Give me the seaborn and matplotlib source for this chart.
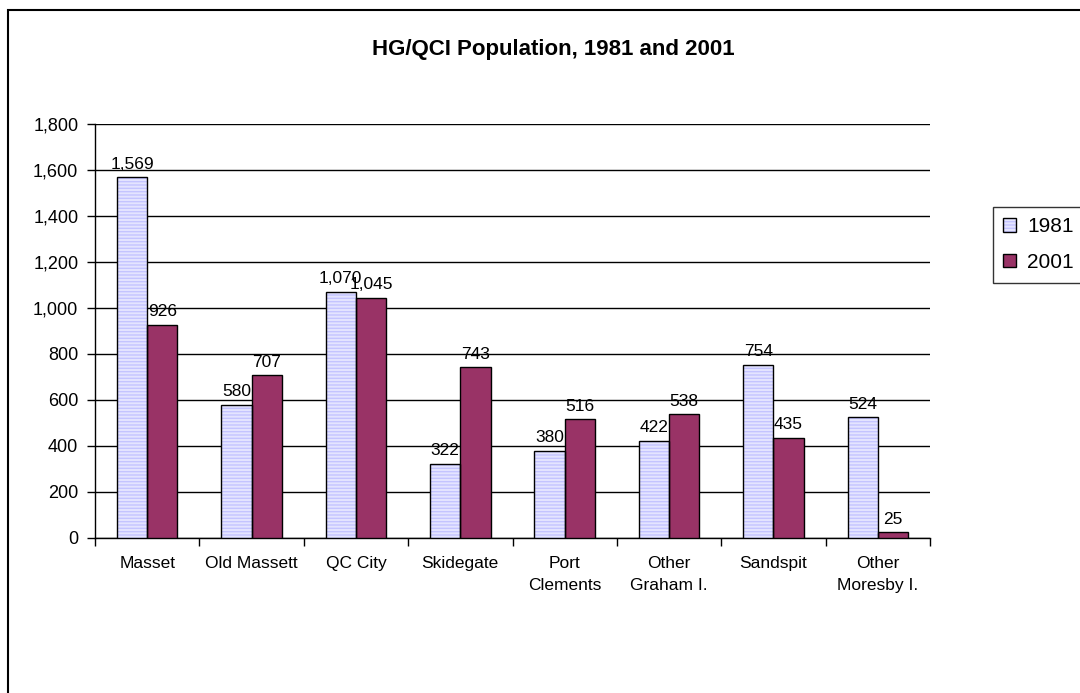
import matplotlib
matplotlib.use("Agg")
import matplotlib.pyplot as plt
from matplotlib.patches import Rectangle, Patch
import seaborn as sns
import pandas as pd

# Community populations for the two census years
communities = ["Masset", "Old Massett", "QC City", "Skidegate", "Port\nClements",
               "Other\nGraham I.", "Sandspit", "Other\nMoresby I."]
pop_1981 = [1569, 580, 1070, 322, 380, 422, 754, 524]
pop_2001 = [926, 707, 1045, 743, 516, 538, 435, 25]
years = ["1981", "2001"]
y_ticks = [0, 200, 400, 600, 800, 1000, 1200, 1400, 1600, 1800]

df = pd.DataFrame({
    "community": communities * 2,
    "year": [years[0]] * len(communities) + [years[1]] * len(communities),
    "population": pop_1981 + pop_2001,
})

sns.set_theme(style="white")
plt.rcParams["font.family"] = ["Liberation Sans", "DejaVu Sans"]
plt.rcParams.update({
    "text.color": "black",
    "axes.labelcolor": "black",
    "xtick.color": "black",
    "ytick.color": "black",
    "hatch.linewidth": 1.0,
})

fig = plt.figure(figsize=(10.8, 6.93), dpi=100)
ax = fig.add_axes([95 / 1080, 1 - 538 / 693, (930 - 95) / 1080, (538 - 124) / 693])

light = "#e4e4ff"
stripe = "#c4c4ff"
plum = "#993366"
sns.barplot(data=df, x="community", y="population", hue="year",
            palette={years[0]: light, years[1]: plum}, width=0.58, gap=0,
            saturation=1, linewidth=0, ax=ax, legend=False, zorder=3)

# Horizontal stripes on the 1981 bars, black outlines on every bar
for i, cont in enumerate(ax.containers):
    for p in cont:
        if i == 0:
            p.set_hatch("-----")
            p.set_edgecolor(stripe)
            p.set_linewidth(0)
        ax.add_patch(Rectangle(p.get_xy(), p.get_width(), p.get_height(),
                               fill=False, edgecolor="black", linewidth=1.0, zorder=4))
    ax.bar_label(cont, labels=[f"{v:,.0f}" for v in cont.datavalues],
                 padding=4, fontsize=12.5, color="black", zorder=5)

ax.set_ylim(0, 1800)
ax.set_xlim(-0.5, len(communities) - 0.5)
ax.set_yticks(y_ticks)
ax.set_yticklabels([f"{t:,}" for t in y_ticks], fontsize=13)
ax.grid(axis="y", color="black", linewidth=1.0, zorder=0)
ax.set_axisbelow(True)
ax.set_xlabel("")
ax.set_ylabel("")

for s in ["top", "right"]:
    ax.spines[s].set_visible(False)
for s in ["left", "bottom"]:
    ax.spines[s].set_color("black")
    ax.spines[s].set_linewidth(1.0)

ax.tick_params(axis="y", which="major", length=6, width=1, color="black",
               direction="out", left=True, pad=6)
ax.tick_params(axis="x", which="major", length=0, labelsize=12.5, pad=13)
for lbl in ax.get_xticklabels():
    lbl.set_linespacing(1.55)
ax.set_xticks([i - 0.5 for i in range(len(communities) + 1)], minor=True)
ax.tick_params(axis="x", which="minor", length=6, width=1, color="black",
               direction="out", bottom=True)

fig.text(553 / 1080, 1 - 50 / 693, "HG/QCI Population, 1981 and 2001",
         ha="center", va="center", fontsize=16, fontweight="bold", color="black")

# Legend keys: striped light fill with a black outline, and solid plum
key_1981 = (Patch(facecolor=light, edgecolor=stripe, hatch="-----", linewidth=0),
            Patch(facecolor="none", edgecolor="black", linewidth=1.0))
key_2001 = Patch(facecolor=plum, edgecolor="black", linewidth=1.0)
leg = fig.legend(handles=[key_1981, key_2001], labels=years, loc="upper left",
                 bbox_to_anchor=(993 / 1080, 1 - 207 / 693), borderaxespad=0,
                 fontsize=15, frameon=True, fancybox=False, framealpha=1,
                 edgecolor="#333333", handlelength=0.6, handleheight=0.6,
                 handletextpad=0.55, borderpad=0.5, labelspacing=0.8)
leg.get_frame().set_linewidth(1.0)

# Chart-area frame running off the right and bottom edges
fig.patches.append(Rectangle((8 / 1080, -0.1), 1.2, 1.1 - 10 / 693,
                             transform=fig.transFigure, fill=False,
                             edgecolor="black", linewidth=1.5))

fig.savefig("out.png", dpi=100)
